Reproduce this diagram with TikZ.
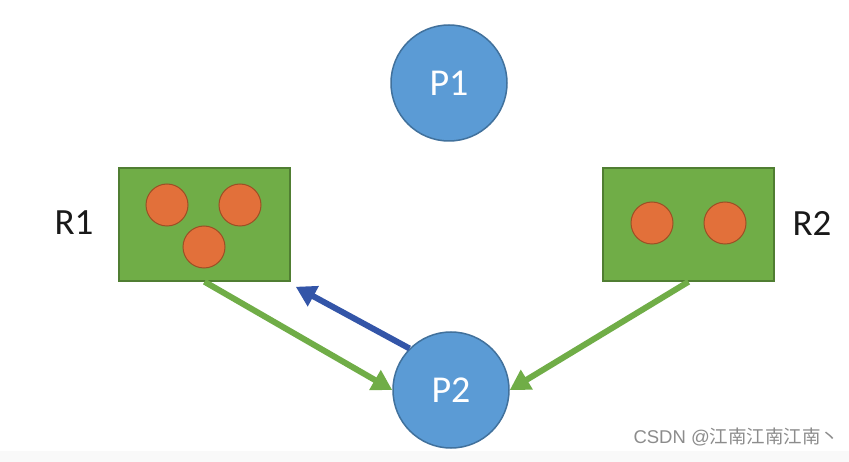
\documentclass[tikz,border=0pt]{standalone}
\usepackage{fontspec}
\setmainfont{Carlito}
\newfontfamily\cjk{Noto Sans CJK SC}
\newfontfamily\wmfont{Liberation Sans}
\usetikzlibrary{arrows.meta}
\definecolor{procfill}{HTML}{5B9BD5}
\definecolor{procedge}{HTML}{41719C}
\definecolor{resfill}{HTML}{70AD47}
\definecolor{resedge}{HTML}{507E32}
\definecolor{instfill}{HTML}{E2703A}
\definecolor{instedge}{HTML}{9C4F25}
\definecolor{reqcol}{HTML}{3355A8}
\definecolor{alloccol}{HTML}{70AD47}
\definecolor{wmark}{HTML}{8C8C8C}

\begin{document}
\begin{tikzpicture}[x=1pt,y=-1pt,
  proc/.style={circle,draw=procedge,line width=1.5pt,fill=procfill,minimum size=116pt,inner sep=0pt,text=white,font=\fontsize{38}{40}\selectfont},
  res/.style={draw=resedge,line width=1.5pt,fill=resfill,minimum width=171pt,minimum height=113pt,inner sep=0pt},
  inst/.style={circle,draw=instedge,line width=1pt,fill=instfill,minimum size=42pt,inner sep=0pt},
  rlbl/.style={font=\fontsize{37}{40}\selectfont,text=black!90},
  alloc/.style={-{Triangle[length=20pt,width=22pt]},line width=6pt,alloccol},
  req/.style={-{Triangle[length=20pt,width=22pt]},line width=6pt,reqcol}]
  \useasboundingbox (0,0) rectangle (849,462);
  \fill[white] (0,0) rectangle (849,462);
  \fill[gray!5] (0,451) rectangle (849,462);

  % processes
  \node[proc] (p1) at (449,83) {P1};
  \node[proc] (p2) at (451,390) {P2};

  % resources with their instances
  \node[res] (r1) at (204.5,224.5) {};
  \node[inst] (r1a) at (167,205) {};
  \node[inst] (r1b) at (240,205) {};
  \node[inst] (r1c) at (204,247) {};
  \node[rlbl] (r1l) at (74,223) {R1};
  \node[res] (r2) at (688.5,224.5) {};
  \node[inst] (r2a) at (652,223) {};
  \node[inst] (r2b) at (725,223) {};
  \node[rlbl] (r2l) at (812,223) {R2};

  % edges
  \draw[alloc] (r1.south) -- (p2.west);
  \draw[alloc] (r2.south) -- (p2.east);
  \draw[req] (p2.135) -- ([shift={(5,5)}]r1.south east);

  \node[text=wmark,anchor=west,font=\fontsize{18.5}{20}\selectfont] (wm) at (630,437) {\wmfont CSDN @\cjk 江南江南江南丶};
\end{tikzpicture}
\end{document}
